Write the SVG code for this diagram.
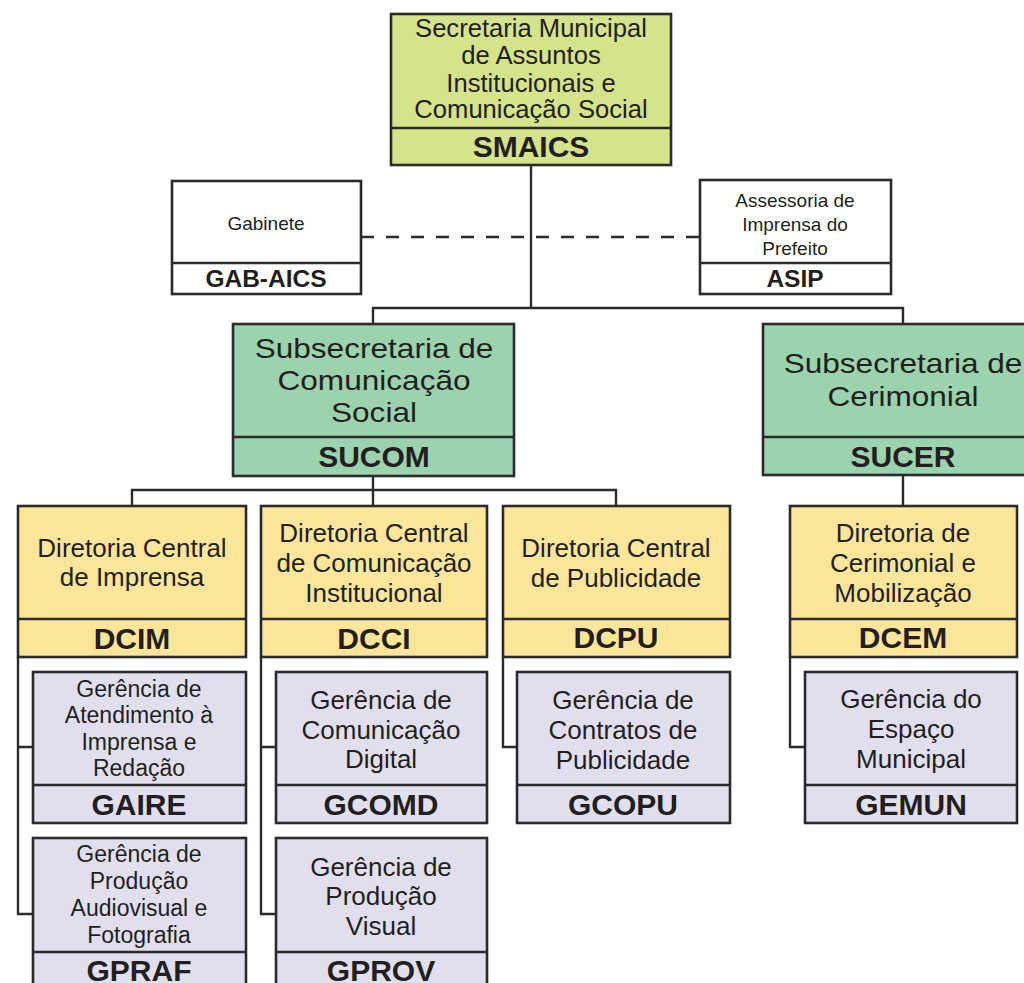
<svg xmlns="http://www.w3.org/2000/svg" width="1024" height="983" viewBox="0 0 1024 983">
<style>
.box{stroke:#2b2b2b;stroke-width:2.6}
.c1{fill:#d5e38b}.c0{fill:#ffffff}.c2{fill:#9bd3ae}.c3{fill:#fde699}.c4{fill:#e1dfee}
.t{font-family:"Liberation Sans",Arial,sans-serif;fill:#231f20;text-anchor:middle}
.w{font-size:27px}
.b{font-family:"Liberation Sans",Arial,sans-serif;fill:#231f20;text-anchor:middle;font-weight:bold;font-size:30px}
.ln{fill:none;stroke:#2b2b2b;stroke-width:2.4}
</style>
<rect width="1024" height="983" fill="#ffffff"/>
<g id="connectors">
<path class="ln" d="M531 165V308M373 324V308H903V324"/>
<path class="ln" d="M361 237H700" stroke-dasharray="13 12"/>
<path class="ln" d="M373 476V506M132 506V490H616V506M903 475V506"/>
<path class="ln" d="M18 657V914H33M18 747H33"/>
<path class="ln" d="M261 657V914H276M261 747H276"/>
<path class="ln" d="M503 657V747H517"/>
<path class="ln" d="M790 657V747H805"/>
</g>
<g id="smaics">
<rect class="box c1" x="391" y="14" width="280" height="151"/>
<line class="box" x1="391" y1="128" x2="671" y2="128"/>
<text class="t" font-size="25.6" x="531" y="37">Secretaria Municipal</text>
<text class="t" font-size="25.6" x="531" y="64">de Assuntos</text>
<text class="t" font-size="25.6" x="531" y="92">Institucionais e</text>
<text class="t" font-size="25.6" x="531" y="118">Comunicação Social</text>
<text class="b" x="531" y="157">SMAICS</text>
</g>
<g id="gab">
<rect class="box c0" x="172" y="181" width="189" height="113"/>
<line class="box" x1="172" y1="263" x2="361" y2="263"/>
<text class="t" font-size="19" x="266" y="230">Gabinete</text>
<text class="b" x="266" y="287" style="font-size:24.5px">GAB-AICS</text>
</g>
<g id="asip">
<rect class="box c0" x="700" y="180" width="191" height="114"/>
<line class="box" x1="700" y1="263" x2="891" y2="263"/>
<text class="t" font-size="19" x="795" y="207">Assessoria de</text>
<text class="t" font-size="19" x="795" y="231">Imprensa do</text>
<text class="t" font-size="19" x="795" y="255">Prefeito</text>
<text class="b" x="795" y="287" style="font-size:24.5px">ASIP</text>
</g>
<g id="sucom">
<rect class="box c2" x="233" y="324" width="281" height="152"/>
<line class="box" x1="233" y1="437" x2="514" y2="437"/>
<text class="t w" transform="translate(374 358) scale(1.17 1)">Subsecretaria de</text>
<text class="t w" transform="translate(374 390) scale(1.17 1)">Comunicação</text>
<text class="t w" transform="translate(374 422) scale(1.17 1)">Social</text>
<text class="b" x="374" y="467">SUCOM</text>
</g>
<g id="sucer">
<rect class="box c2" x="763" y="324" width="280" height="151"/>
<line class="box" x1="763" y1="437" x2="1043" y2="437"/>
<text class="t w" transform="translate(903 373) scale(1.17 1)">Subsecretaria de</text>
<text class="t w" transform="translate(903 406) scale(1.17 1)">Cerimonial</text>
<text class="b" x="903" y="467">SUCER</text>
</g>
<g id="dcim">
<rect class="box c3" x="18" y="506" width="228" height="151"/>
<line class="box" x1="18" y1="619" x2="246" y2="619"/>
<text class="t" font-size="26" x="132" y="557">Diretoria Central</text>
<text class="t" font-size="26" x="132" y="586">de Imprensa</text>
<text class="b" x="132" y="649">DCIM</text>
</g>
<g id="dcci">
<rect class="box c3" x="261" y="506" width="226" height="151"/>
<line class="box" x1="261" y1="619" x2="487" y2="619"/>
<text class="t" font-size="26" x="374" y="542">Diretoria Central</text>
<text class="t" font-size="26" x="374" y="572">de Comunicação</text>
<text class="t" font-size="26" x="374" y="602">Institucional</text>
<text class="b" x="374" y="649">DCCI</text>
</g>
<g id="dcpu">
<rect class="box c3" x="503" y="506" width="227" height="151"/>
<line class="box" x1="503" y1="619" x2="730" y2="619"/>
<text class="t" font-size="26" x="616" y="557">Diretoria Central</text>
<text class="t" font-size="26" x="616" y="587">de Publicidade</text>
<text class="b" x="616" y="648">DCPU</text>
</g>
<g id="dcem">
<rect class="box c3" x="790" y="506" width="227" height="151"/>
<line class="box" x1="790" y1="619" x2="1017" y2="619"/>
<text class="t" font-size="26" x="903" y="542">Diretoria de</text>
<text class="t" font-size="26" x="903" y="572">Cerimonial e</text>
<text class="t" font-size="26" x="903" y="602">Mobilização</text>
<text class="b" x="903" y="648">DCEM</text>
</g>
<g id="gaire">
<rect class="box c4" x="33" y="672" width="213" height="151"/>
<line class="box" x1="33" y1="785" x2="246" y2="785"/>
<text class="t" font-size="23" x="139" y="697">Gerência de</text>
<text class="t" font-size="23" x="139" y="723">Atendimento à</text>
<text class="t" font-size="23" x="139" y="750">Imprensa e</text>
<text class="t" font-size="23" x="139" y="776">Redação</text>
<text class="b" x="139" y="815">GAIRE</text>
</g>
<g id="gpraf">
<rect class="box c4" x="33" y="838" width="213" height="160"/>
<line class="box" x1="33" y1="952" x2="246" y2="952"/>
<text class="t" font-size="23" x="139" y="862">Gerência de</text>
<text class="t" font-size="23" x="139" y="889">Produção</text>
<text class="t" font-size="23" x="139" y="916">Audiovisual e</text>
<text class="t" font-size="23" x="139" y="943">Fotografia</text>
<text class="b" x="139" y="981">GPRAF</text>
</g>
<g id="gcomd">
<rect class="box c4" x="276" y="672" width="211" height="151"/>
<line class="box" x1="276" y1="785" x2="487" y2="785"/>
<text class="t" font-size="26" x="381" y="709">Gerência de</text>
<text class="t" font-size="26" x="381" y="739">Comunicação</text>
<text class="t" font-size="26" x="381" y="768">Digital</text>
<text class="b" x="381" y="815">GCOMD</text>
</g>
<g id="gprov">
<rect class="box c4" x="276" y="838" width="211" height="160"/>
<line class="box" x1="276" y1="952" x2="487" y2="952"/>
<text class="t" font-size="26" x="381" y="876">Gerência de</text>
<text class="t" font-size="26" x="381" y="905">Produção</text>
<text class="t" font-size="26" x="381" y="935">Visual</text>
<text class="b" x="381" y="981">GPROV</text>
</g>
<g id="gcopu">
<rect class="box c4" x="517" y="672" width="213" height="151"/>
<line class="box" x1="517" y1="785" x2="730" y2="785"/>
<text class="t" font-size="26" x="623" y="709">Gerência de</text>
<text class="t" font-size="26" x="623" y="739">Contratos de</text>
<text class="t" font-size="26" x="623" y="769">Publicidade</text>
<text class="b" x="623" y="815">GCOPU</text>
</g>
<g id="gemun">
<rect class="box c4" x="805" y="672" width="212" height="151"/>
<line class="box" x1="805" y1="785" x2="1017" y2="785"/>
<text class="t" font-size="26" x="911" y="708">Gerência do</text>
<text class="t" font-size="26" x="911" y="738">Espaço</text>
<text class="t" font-size="26" x="911" y="768">Municipal</text>
<text class="b" x="911" y="815">GEMUN</text>
</g>
</svg>
